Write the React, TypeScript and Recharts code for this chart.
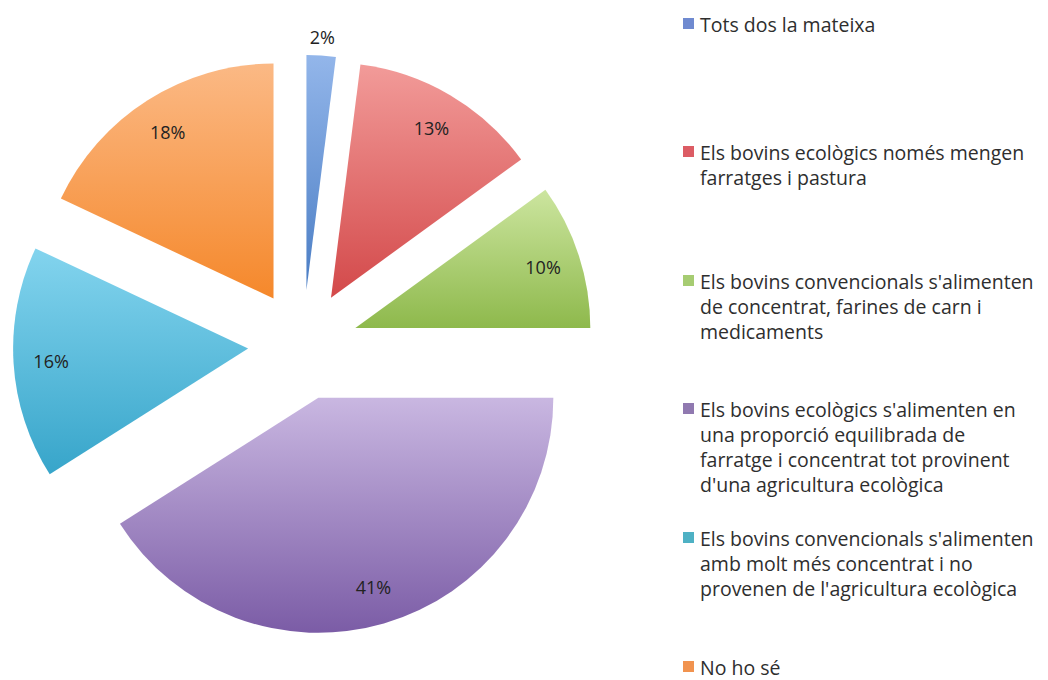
import React from 'react';
import { PieChart, Pie, Cell, Legend, Sector } from 'recharts';

const categories = [
  'Tots dos la mateixa',
  'Els bovins ecològics només mengen\nfarratges i pastura',
  "Els bovins convencionals s'alimenten\nde concentrat, farines de carn i\nmedicaments",
  "Els bovins ecològics s'alimenten en\nuna proporció equilibrada de\nfarratge i concentrat tot provinent\nd'una agricultura ecològica",
  "Els bovins convencionals s'alimenten\namb molt més concentrat i no\nprovenen de l'agricultura ecològica",
  'No ho sé',
];
const shares = [2, 13, 10, 41, 16, 18];

const topColors = ['#93B6EA', '#F29B99', '#CCE59F', '#C9B7E1', '#83D4EE', '#FBB985'];
const bottomColors = ['#4A7DC4', '#D3494A', '#8EB94C', '#7B5CA6', '#37A5CA', '#F5882B'];
const legendColors = ['#6F8AD0', '#DC5C64', '#A6CC72', '#9079B0', '#4EB1C4', '#F1934F'];

const data = categories.map((name, i) => ({ name, value: shares[i] }));

const FONT = "'Open Sans', sans-serif";
const EXPLODE = 55;
const RAD = Math.PI / 180;

// slices pushed out from the centre along their mid angle
const ExplodedSlice = (props: any) => {
  const { cx, cy, midAngle, ...rest } = props;
  const dx = EXPLODE * Math.cos(-midAngle * RAD);
  const dy = EXPLODE * Math.sin(-midAngle * RAD);
  return <Sector {...rest} cx={cx + dx} cy={cy + dy} />;
};

const renderLabel = (props: any) => {
  const { cx, cy, midAngle, outerRadius, percent } = props;
  const pct = Math.round(percent * 100);
  const r = pct < 5 ? EXPLODE + outerRadius + 19 : EXPLODE + outerRadius * 0.84;
  const x = cx + r * Math.cos(-midAngle * RAD);
  const y = cy + r * Math.sin(-midAngle * RAD);
  return (
    <text x={x} y={y} textAnchor="middle" dominantBaseline="central" fill="#222" fontSize={18} fontFamily={FONT}>
      {`${pct}%`}
    </text>
  );
};

const renderLegend = (props: any) => {
  const items = [...(props.payload || [])];
  return (
    <div style={{ position: 'relative', fontFamily: FONT, fontSize: 19.5, color: '#2e2e2e' }}>
      {items.map((entry: any) => {
        const i = categories.indexOf(entry.value);
        return (
          <div key={i} style={{ position: 'absolute', left: 0, top: 3.5 + i * 128.6, display: 'flex' }}>
            <span style={{ width: 11, height: 11, marginTop: 6, marginRight: 6, background: legendColors[i], flex: 'none' }} />
            <span style={{ whiteSpace: 'pre', lineHeight: '25px' }}>{entry.value}</span>
          </div>
        );
      })}
    </div>
  );
};

export default function App() {
  return (
    <PieChart width={1032} height={672}>
      <defs>
        {topColors.map((c, i) => (
          <linearGradient key={i} id={`slice-${i}`} x1="0" y1="0" x2="0" y2="1">
            <stop offset="0%" stopColor={c} />
            <stop offset="100%" stopColor={bottomColors[i]} />
          </linearGradient>
        ))}
      </defs>
      <Pie
        data={data}
        dataKey="value"
        nameKey="name"
        cx={290}
        cy={332}
        outerRadius={235}
        startAngle={90}
        endAngle={-270}
        stroke="none"
        shape={ExplodedSlice}
        activeShape={ExplodedSlice}
        inactiveShape={ExplodedSlice}
        label={renderLabel}
        labelLine={false}
        isAnimationActive={false}
      >
        {data.map((d, i) => (
          <Cell key={d.name} fill={`url(#slice-${i})`} />
        ))}
      </Pie>
      <Legend
        content={renderLegend}
        itemSorter={null}
        wrapperStyle={{ left: 675, top: 0, width: 357 }}
      />
    </PieChart>
  );
}
